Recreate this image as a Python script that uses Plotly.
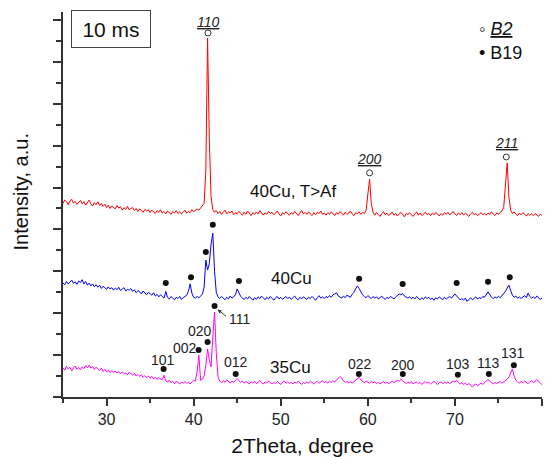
import numpy as np
import plotly.graph_objects as go

# scan grid (degrees 2Theta)
scan_start = 25.0
scan_step = 0.2

# intensities (a.u.), one value per scan step, 10 values = 2 degrees per row
red_40cu_af = [
    462, 470, 466, 459, 468, 472, 463, 467, 460, 465,
    469, 461, 466, 458, 463, 470, 461, 456, 464, 459,
    466, 457, 462, 455, 460, 452, 458, 450, 456, 453,
    449, 457, 451, 454, 446, 452, 448, 455, 447, 450,
    452, 445, 450, 443, 449, 446, 441, 448, 444, 447,
    440, 446, 443, 438, 445, 441, 447, 439, 443, 437,
    444, 440, 436, 443, 439, 445, 438, 442, 437, 441,
    446, 439, 443, 440, 447, 442, 445, 449, 446, 452,
    455, 462, 540, 857, 615, 478, 447, 441, 445, 438,
    443, 436, 441, 446, 437, 442, 439, 444, 435, 440,
    437, 443, 438, 434, 441, 436, 444, 439, 433, 440,
    436, 442, 437, 445, 439, 434, 440, 436, 443, 438,
    441, 435, 439, 444, 437, 432, 440, 436, 442, 437,
    434, 440, 436, 443, 438, 433, 439, 445, 437, 441,
    436, 442, 437, 433, 440, 435, 441, 438, 444, 436,
    439, 434, 440, 436, 442, 437, 433, 440, 436, 443,
    438, 434, 441, 436, 439, 444, 437, 433, 440, 438,
    442, 436, 441, 438, 446, 478, 520, 462, 441, 434,
    440, 436, 431, 438, 442, 435, 439, 433, 437, 441,
    434, 438, 432, 437, 441, 436, 430, 438, 435, 440,
    436, 431, 437, 442, 434, 439, 433, 436, 441, 435,
    438, 433, 439, 435, 441, 437, 432, 438, 434, 440,
    436, 441, 435, 438, 443, 437, 433, 439, 435, 440,
    434, 439, 436, 431, 437, 441, 435, 438, 433, 436,
    440, 435, 438, 434, 439, 436, 442, 437, 433, 439,
    436, 441, 444, 452, 505, 559, 478, 446, 438, 442,
    436, 433, 439, 435, 440, 437, 432, 438, 434, 437,
    433, 438, 435, 431, 436, 434,
]

blue_40cu = [
    272, 268, 276, 270, 274, 279, 271, 275, 269, 277,
    273, 280, 270, 276, 267, 272, 265, 270, 263, 268,
    262, 267, 259, 264, 261, 257, 263, 258, 261, 255,
    260, 256, 262, 254, 258, 261, 253, 257, 255, 259,
    252, 256, 249, 254, 251, 246, 253, 248, 244, 250,
    247, 243, 249, 241, 245, 239, 244, 240, 236, 252,
    238, 234, 240, 236, 232, 238, 235, 240, 233, 237,
    239, 243, 252, 270, 248, 238, 236, 240, 237, 242,
    245, 262, 327, 303, 318, 365, 391, 300, 250, 239,
    235, 240, 236, 232, 238, 234, 241, 236, 239, 244,
    258, 249, 240, 236, 233, 238, 234, 240, 236, 231,
    237, 233, 239, 235, 241, 236, 232, 238, 234, 240,
    236, 231, 237, 240, 234, 238, 233, 236, 240, 235,
    238, 233, 236, 241, 235, 232, 238, 234, 239, 236,
    233, 238, 235, 240, 236, 231, 237, 242, 236, 239,
    235, 240, 237, 242, 238, 244, 246, 249, 241, 238,
    236, 241, 237, 243, 240, 238, 245, 250, 258, 265,
    259, 250, 244, 240, 237, 242, 238, 235, 240, 236,
    239, 234, 237, 241, 236, 233, 238, 235, 240, 237,
    234, 239, 242, 246, 244, 247, 241, 238, 236, 239,
    235, 238, 234, 240, 236, 232, 237, 233, 239, 235,
    238, 233, 236, 231, 237, 234, 239, 235, 232, 238,
    234, 237, 240, 236, 242, 246, 241, 236, 232, 235,
    231, 236, 228, 233, 237, 232, 236, 239, 234, 237,
    235, 240, 238, 244, 251, 245, 238, 235, 239, 236,
    240, 237, 242, 245, 252, 260, 267, 254, 243, 238,
    241, 236, 239, 235, 238, 242, 237, 248, 240, 236,
    239, 235, 241, 237, 233, 236,
]

magenta_35cu = [
    70, 64, 73, 67, 71, 62, 69, 74, 66, 70,
    65, 72, 68, 75, 70, 76, 69, 73, 66, 71,
    67, 63, 69, 61, 66, 60, 64, 58, 63, 59,
    62, 57, 61, 55, 60, 56, 58, 53, 59, 55,
    52, 57, 50, 54, 49, 53, 47, 51, 46, 50,
    45, 49, 43, 47, 42, 46, 44, 41, 52, 38,
    36, 40, 34, 38, 32, 37, 35, 31, 36, 33,
    37, 33, 35, 31, 36, 40, 38, 60, 100, 40,
    42, 50, 75, 115, 88, 72, 143, 203, 105, 48,
    38, 34, 39, 35, 41, 36, 33, 38, 35, 40,
    44, 39, 35, 38, 33, 37, 34, 31, 36, 33,
    37, 32, 35, 39, 34, 31, 36, 33, 38, 34,
    31, 35, 32, 37, 33, 30, 35, 38, 33, 36,
    32, 35, 31, 36, 33, 38, 34, 30, 35, 32,
    36, 33, 38, 34, 31, 35, 37, 33, 36, 39,
    34, 37, 33, 38, 35, 39, 36, 40, 44, 49,
    45, 38, 35, 37, 34, 36, 33, 37, 40, 44,
    47, 41, 37, 34, 38, 35, 33, 37, 34, 36,
    32, 35, 31, 34, 37, 33, 35, 32, 36, 38,
    34, 37, 40, 38, 42, 39, 35, 32, 36, 33,
    37, 31, 34, 36, 32, 35, 30, 34, 37, 33,
    35, 31, 34, 38, 33, 30, 34, 36, 32, 35,
    33, 36, 32, 35, 38, 36, 40, 35, 31, 34,
    30, 33, 29, 32, 27, 24, 28, 31, 27, 30,
    33, 30, 35, 38, 42, 37, 34, 31, 35, 32,
    34, 37, 33, 36, 39, 42, 48, 58, 67, 50,
    40, 36, 33, 37, 34, 38, 35, 32, 36, 39,
    34, 37, 41, 38, 33, 29,
]

# phase markers
b2_x = [41.65, 60.2, 75.9]
b2_y = [869, 535, 573]
b2_labels = ["110", "200", "211"]
b2_label_y = [894, 568, 606]

b19_40cu_x = [36.8, 39.7, 41.4, 42.2, 45.2, 59.0, 64.0, 70.2, 73.8, 76.3]
b19_40cu_y = [272, 286, 346, 411, 277, 282, 270, 272, 275, 286]

b19_35cu_x = [36.55, 40.57, 41.6, 42.4, 44.83, 58.97, 64.02, 70.34, 73.9, 76.77]
b19_35cu_y = [67, 112, 131, 217, 55, 55, 55, 53, 55, 76]
b19_35cu_labels = ["101", "002", "020", "111", "012", "022", "200", "103", "113", "131"]
b19_35cu_label_x = [36.44, 38.97, 40.75, 45.23, 44.83, 59.07, 64.08, 70.34, 73.9, 76.72]
b19_35cu_label_y = [88, 118, 158, 186, 84, 79, 76, 79, 81, 105]

series_names = ["40Cu, T>Af", "40Cu", "35Cu"]
series_colors = ["#ff0000", "#0000ff", "#ff00ff"]
series_label_x = [51.44, 51.2, 51.1]
series_label_y = [490, 282, 70]

FONT = "Liberation Sans, Arial, sans-serif"


def grid(values):
    return [round(scan_start + scan_step * i, 2) for i in range(len(values))]


assert len(red_40cu_af) == 276 and len(blue_40cu) == 276 and len(magenta_35cu) == 276

fig = go.Figure()
for vals, name, col in zip([red_40cu_af, blue_40cu, magenta_35cu], series_names, series_colors):
    fig.add_trace(go.Scatter(x=grid(vals), y=vals, mode="lines", name=name,
                             line=dict(color=col, width=1), showlegend=False))

fig.add_trace(go.Scatter(x=b2_x, y=b2_y, mode="markers", name="B2", showlegend=False,
                         marker=dict(symbol="circle-open", size=6, color="#333",
                                     line=dict(width=1, color="#333"))))
fig.add_trace(go.Scatter(x=b19_40cu_x + b19_35cu_x, y=b19_40cu_y + b19_35cu_y,
                         mode="markers", name="B19", showlegend=False,
                         marker=dict(symbol="circle", size=6, color="#111")))

ann = []
for x, y, t in zip(b2_x, b2_label_y, b2_labels):
    ann.append(dict(x=x, y=y, text=f"<i><u>{t}</u></i>", showarrow=False,
                    font=dict(size=14, color="#222", family=FONT)))
for x, y, t in zip(b19_35cu_label_x, b19_35cu_label_y, b19_35cu_labels):
    ann.append(dict(x=x, y=y, text=t, showarrow=False,
                    font=dict(size=14, color="#222", family=FONT)))
for x, y, t in zip(series_label_x, series_label_y, series_names):
    ann.append(dict(x=x, y=y, text=t.replace(">", "&gt;"), showarrow=False,
                    font=dict(size=17, color="#111", family=FONT)))
# arrow for 111
ann.append(dict(x=b19_35cu_x[3] + 0.35, y=b19_35cu_y[3] - 8, ax=10, ay=8, text="",
                showarrow=True, arrowhead=2, arrowsize=0.8, arrowwidth=1,
                arrowcolor="#333", standoff=0, startstandoff=0))
# time box
ann.append(dict(xref="paper", yref="paper", x=0.1, y=0.956, xanchor="center",
                yanchor="middle", text="10 ms",
                showarrow=False, width=76, height=34, bordercolor="#444",
                borderwidth=1, bgcolor="white",
                font=dict(size=21, color="#111", family=FONT)))
# legend
ann.append(dict(xref="paper", yref="paper", x=0.864, y=0.955, xanchor="left",
                yanchor="middle", text="◦ <i><u>B2</u></i>", showarrow=False,
                font=dict(size=18, color="#111", family=FONT)))
ann.append(dict(xref="paper", yref="paper", x=0.864, y=0.893, xanchor="left",
                yanchor="middle", text="• B19", showarrow=False,
                font=dict(size=18, color="#111", family=FONT)))
# y axis title
ann.append(dict(xref="paper", yref="paper", x=-0.087, y=0.532, textangle=-90,
                xanchor="center", yanchor="middle",
                text="Intensity, a.u.", showarrow=False,
                font=dict(size=20, color="#111", family=FONT)))

fig.update_layout(
    width=548, height=457,
    margin=dict(l=63, r=6, t=12, b=60),
    paper_bgcolor="white", plot_bgcolor="white",
    font=dict(family=FONT, color="#222"),
    annotations=ann,
    xaxis=dict(range=[25, 80], dtick=10, tick0=0, ticks="outside", ticklen=7,
               tickwidth=1.5, tickcolor="#333", showline=True, linewidth=1.5,
               linecolor="#333", showgrid=False, zeroline=False, automargin=False,
               tickfont=dict(size=16, color="#222"),
               minor=dict(dtick=5, ticks="outside", ticklen=4, tickwidth=1.5,
                          tickcolor="#333", showgrid=False),
               title=dict(text="2Theta, degree", font=dict(size=21, color="#111"),
                          standoff=12)),
    yaxis=dict(range=[0, 919], dtick=100, tick0=0, ticks="outside", ticklen=8,
               tickwidth=1.5, tickcolor="#333", showline=True, linewidth=1.5,
               linecolor="#333", showgrid=False, zeroline=False, automargin=False,
               showticklabels=False,
               minor=dict(dtick=50, ticks="outside", ticklen=5, tickwidth=1.5,
                          tickcolor="#333", showgrid=False)),
)

fig.write_html("out.html", config={"displayModeBar": False},
               post_script="document.body.style.margin='0';document.body.style.overflow='hidden';")
